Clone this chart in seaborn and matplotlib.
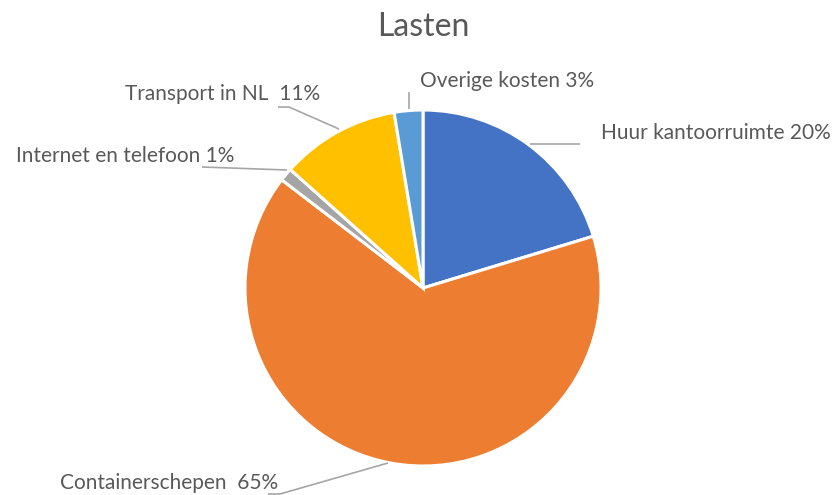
import matplotlib
matplotlib.use("Agg")
import matplotlib.pyplot as plt
import seaborn as sns

sns.set_theme(style="white")
plt.rcParams['font.family'] = ['Lato', 'DejaVu Sans']

categories = ["Huur kantoorruimte", "Containerschepen", "Internet en telefoon",
              "Transport in NL", "Overige kosten"]
values = [20.3, 65.1, 1.2, 10.8, 2.6]
label_sep = [" ", "  ", " ", "  ", " "]
colors = ["#4472C4", "#ED7D31", "#A5A5A5", "#FFC000", "#5B9BD5"]

W, H = 837, 495
fig = plt.figure(figsize=(W / 100, H / 100), dpi=100)
ax = fig.add_axes([0, 0, 1, 1])

cx, cy, r = 423, H - 288, 178
ax.pie(values, colors=colors, startangle=90, counterclock=False,
       center=(cx, cy), radius=r, frame=True,
       wedgeprops=dict(edgecolor="white", linewidth=2.2))
ax.set_xlim(0, W)
ax.set_ylim(0, H)
ax.set_aspect("equal")
ax.axis("off")

def Y(y):
    return H - y

total = sum(values)
labels = [f"{c}{s}{v / total * 100:.0f}%" for c, v, s in zip(categories, values, label_sep)]

# text positions (px from top-left), anchor, leader line points
layout = [
    dict(xy=(601, 133), ha="left", line=[(530, 144), (580, 144)]),
    dict(xy=(278, 483), ha="right", line=[(388, 463), (280, 494), (268, 494)]),
    dict(xy=(234, 156), ha="right", line=[(287, 170), (202, 167)]),
    dict(xy=(320, 94), ha="right", line=[(339, 129), (289, 107), (278, 107)]),
    dict(xy=(420, 81), ha="left", line=[(409, 109), (409, 92)]),
]
text_color = "#595959"
line_color = "#A6A6A6"
for lab, lay in zip(labels, layout):
    x, y = lay["xy"]
    ax.text(x, Y(y), lab, ha=lay["ha"], va="center", fontsize=15, color=text_color)
    xs = [p[0] for p in lay["line"]]
    ys = [Y(p[1]) for p in lay["line"]]
    ax.plot(xs, ys, color=line_color, linewidth=1.2, solid_capstyle="butt")

ax.text(423, Y(27), "Lasten", ha="center", va="center", fontsize=23, color=text_color)

fig.savefig("out.png", dpi=100, facecolor="white")
